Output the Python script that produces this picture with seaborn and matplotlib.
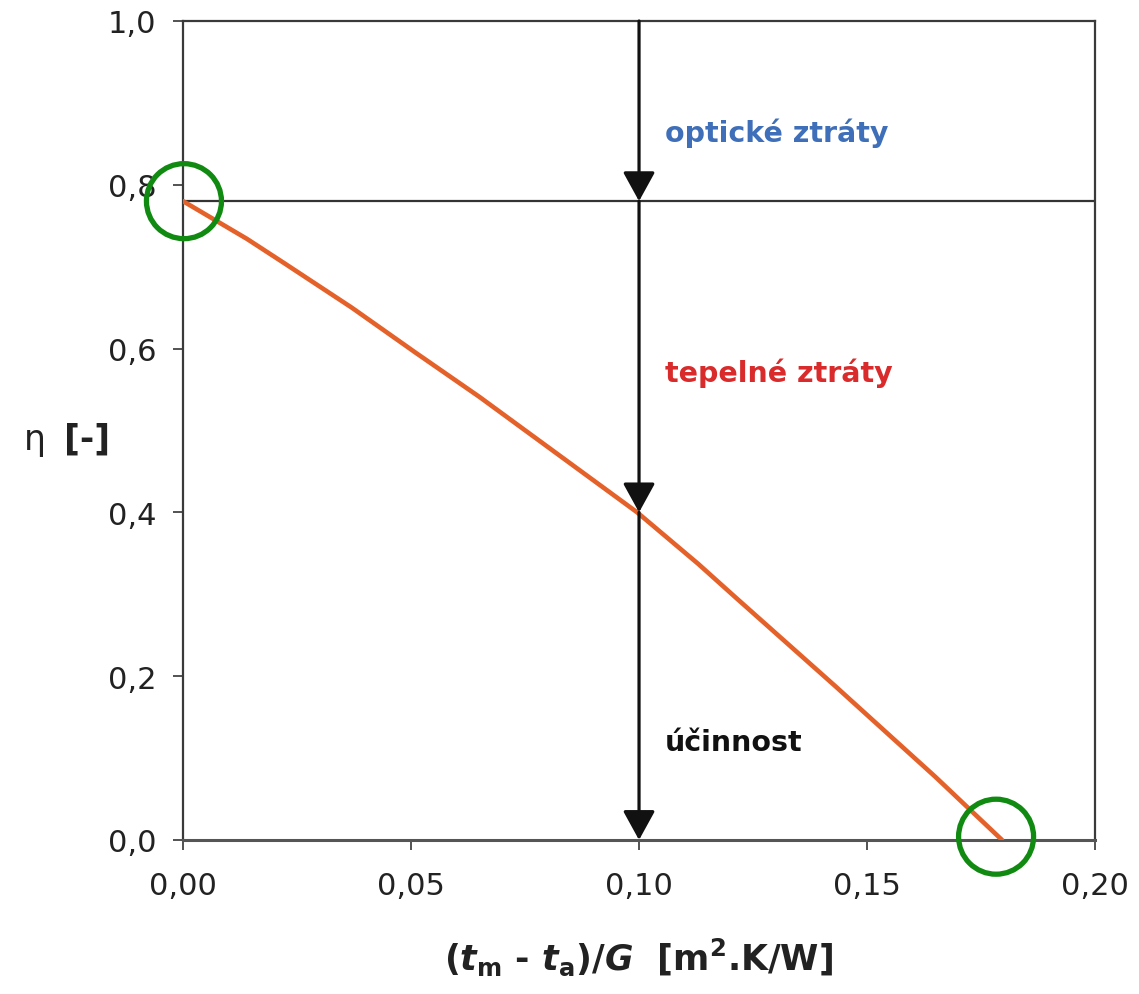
import matplotlib
matplotlib.use("Agg")
import matplotlib.pyplot as plt
import seaborn as sns
import pandas as pd
from matplotlib.patches import Ellipse
from matplotlib.ticker import FuncFormatter

# ---- data ----
x_vals = [0.000, 0.014, 0.022, 0.037, 0.051, 0.065, 0.0996, 0.113, 0.121, 0.143, 0.165, 0.1796]
eta_vals = [0.780, 0.734, 0.705, 0.650, 0.595, 0.541, 0.400, 0.337, 0.297, 0.188, 0.077, 0.0]
eta0 = 0.78            # optical efficiency (horizontal line)
x_mark = 0.10          # position of the vertical arrow line
eta_at_mark = 0.40     # efficiency at x_mark
x_ticks = [0.0, 0.05, 0.10, 0.15, 0.20]
y_ticks = [0.0, 0.2, 0.4, 0.6, 0.8, 1.0]
circle_centers = [(0.0002, 0.780), (0.1783, 0.004)]
labels = ["optické ztráty", "tepelné ztráty", "účinnost"]
label_y = [0.864, 0.571, 0.120]
label_colors = ["#3f6fb8", "#d92b2b", "#111111"]

sns.set_theme(style="ticks")
plt.rcParams["font.family"] = ["DejaVu Sans"]
plt.rcParams.update({
    "mathtext.fontset": "custom",
    "mathtext.rm": "DejaVu Sans:bold",
    "mathtext.it": "DejaVu Sans:bold:italic",
    "mathtext.bf": "DejaVu Sans:bold",
})

fig = plt.figure(figsize=(11.39, 9.95), dpi=100)
ax = fig.add_axes([0.1607, 0.1548, 0.8007, 0.8231])

df = pd.DataFrame({"x": x_vals, "eta": eta_vals})
sns.lineplot(data=df, x="x", y="eta", ax=ax, color="#e5612a", lw=3.3, zorder=3)

ax.set_xlim(0, 0.20)
ax.set_ylim(0, 1.0)
ax.set_xticks(x_ticks)
ax.set_yticks(y_ticks)
ax.xaxis.set_major_formatter(FuncFormatter(lambda v, p: f"{v:.2f}".replace(".", ",")))
ax.yaxis.set_major_formatter(FuncFormatter(lambda v, p: f"{v:.1f}".replace(".", ",")))
ax.tick_params(axis="both", direction="out", length=7.2, width=1.3, color="#444444",
               labelsize=22, labelcolor="#222222")
ax.tick_params(axis="y", pad=12)
ax.tick_params(axis="x", pad=15)

for sp in ax.spines.values():
    sp.set_color("#3a3a3a")
    sp.set_linewidth(1.6)
ax.spines["bottom"].set_color("#555555")
ax.spines["bottom"].set_linewidth(2.2)

# horizontal line at optical efficiency
ax.axhline(eta0, color="#333333", lw=1.6, zorder=2)

# vertical line with arrows
arrow_kw = dict(arrowstyle="-|>,head_length=1.0,head_width=0.55", mutation_scale=18,
                color="#111111", lw=2.3, shrinkA=0, shrinkB=0)
for y_from, y_to in [(1.0, eta0), (eta0, eta_at_mark), (eta_at_mark, 0.0)]:
    ax.annotate("", xy=(x_mark, y_to), xytext=(x_mark, y_from), arrowprops=arrow_kw,
                zorder=4, annotation_clip=False)

# labels
for txt, yy, col in zip(labels, label_y, label_colors):
    ax.text(0.1057, yy, txt, color=col, fontsize=20.5, fontweight="bold",
            va="center", ha="left")

# green circles
rx = 37.5 / 4560.0
ry = 37.5 / 819.0
for cx, cy in circle_centers:
    e = Ellipse((cx, cy), 2 * rx, 2 * ry, fill=False, edgecolor="#108a10", lw=3.8,
                clip_on=False, zorder=5)
    ax.add_patch(e)

# axis labels
ax.set_xlabel(r"$(t_{\mathrm{m}}$ - $t_{\mathrm{a}})/G$  [m$^{\mathrm{2}}$.K/W]",
              fontsize=25, fontweight="bold", color="#222222", labelpad=26)
ax.set_ylabel("η", rotation=0, fontsize=25, color="#222222", va="center", ha="center")
ax.yaxis.set_label_coords(-0.162, 0.49)
ax.text(-0.105, 0.49, "[-]", transform=ax.transAxes, fontsize=25, fontweight="bold",
        color="#222222", va="center", ha="center")

fig.savefig("out.png", dpi=100)
